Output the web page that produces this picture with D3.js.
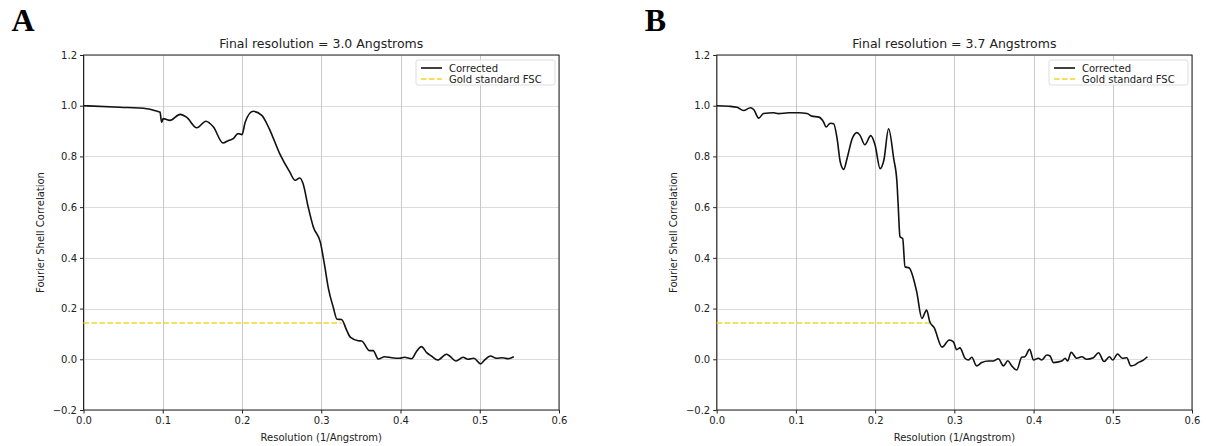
<!DOCTYPE html>
<html>
<head>
<meta charset="utf-8">
<script src="https://cdn.jsdelivr.net/npm/d3@7"></script>
<style>
  body { margin: 0; background: #fff; }
  svg { display: block; }
</style>
</head>
<body>
<div id="chart"></div>
<script>
// Panel A: FSC curve, final resolution 3.0 A
const resA = [0.000, 0.046, 0.080, 0.094, 0.0965, 0.0986, 0.1006, 0.109, 0.122, 0.130, 0.143, 0.1545, 0.164, 0.176, 0.183, 0.189, 0.195, 0.200, 0.204, 0.214, 0.225, 0.234, 0.248, 0.260, 0.267, 0.273, 0.277, 0.2835, 0.290, 0.299, 0.3045, 0.309, 0.315, 0.320, 0.3256, 0.332, 0.337, 0.3466, 0.351, 0.361, 0.3655, 0.372, 0.380, 0.389, 0.399, 0.405, 0.414, 0.420, 0.4265, 0.433, 0.439, 0.447, 0.458, 0.462, 0.470, 0.479, 0.485, 0.4925, 0.501, 0.506, 0.5135, 0.521, 0.529, 0.5357, 0.543];
const fscA = [1.000, 0.994, 0.988, 0.977, 0.975, 0.935, 0.949, 0.942, 0.966, 0.955, 0.913, 0.939, 0.916, 0.853, 0.863, 0.870, 0.890, 0.886, 0.935, 0.978, 0.962, 0.912, 0.808, 0.740, 0.706, 0.715, 0.693, 0.601, 0.522, 0.460, 0.365, 0.280, 0.207, 0.158, 0.157, 0.115, 0.086, 0.073, 0.072, 0.034, 0.034, 0.001, 0.010, 0.006, 0.004, 0.008, 0.002, 0.030, 0.050, 0.026, 0.013, -0.003, 0.020, 0.013, -0.007, 0.008, 0.000, 0.004, -0.018, -0.003, 0.013, 0.004, 0.006, 0.002, 0.010];

// Panel B: FSC curve, final resolution 3.7 A
const resB = [0.000, 0.015, 0.0256, 0.034, 0.0425, 0.0467, 0.053, 0.059, 0.072, 0.078, 0.091, 0.1035, 0.114, 0.120, 0.129, 0.135, 0.138, 0.1434, 0.1477, 0.152, 0.156, 0.1604, 0.1645, 0.171, 0.177, 0.181, 0.187, 0.1945, 0.200, 0.2063, 0.211, 0.217, 0.2235, 0.2275, 0.229, 0.2314, 0.2348, 0.2377, 0.243, 0.2525, 0.259, 0.265, 0.269, 0.2745, 0.2845, 0.2937, 0.2988, 0.303, 0.307, 0.3135, 0.3177, 0.322, 0.328, 0.3346, 0.343, 0.349, 0.3556, 0.362, 0.3674, 0.3725, 0.3788, 0.385, 0.389, 0.395, 0.400, 0.406, 0.4103, 0.4167, 0.4208, 0.425, 0.4356, 0.4398, 0.443, 0.4474, 0.4545, 0.461, 0.467, 0.4755, 0.482, 0.489, 0.4957, 0.500, 0.506, 0.512, 0.5177, 0.5227, 0.528, 0.532, 0.5386, 0.5437];
const fscB = [1.000, 0.998, 0.994, 0.981, 0.992, 0.985, 0.951, 0.969, 0.972, 0.969, 0.972, 0.972, 0.969, 0.959, 0.955, 0.935, 0.916, 0.931, 0.929, 0.870, 0.778, 0.749, 0.791, 0.870, 0.894, 0.883, 0.846, 0.882, 0.844, 0.752, 0.785, 0.909, 0.790, 0.700, 0.614, 0.483, 0.476, 0.365, 0.360, 0.266, 0.161, 0.194, 0.148, 0.125, 0.048, 0.076, 0.069, 0.038, 0.045, 0.004, -0.003, 0.008, -0.026, -0.013, -0.007, -0.007, 0.002, -0.026, -0.006, -0.026, -0.042, 0.008, 0.010, 0.039, -0.003, 0.004, -0.003, 0.017, 0.013, -0.013, -0.007, 0.004, -0.007, 0.028, 0.004, 0.010, 0.000, 0.006, 0.026, -0.009, 0.010, -0.003, 0.021, 0.004, 0.006, -0.026, -0.022, -0.013, -0.003, 0.010];

// gold standard threshold and where the dashed line stops
const goldLevel = 0.143;
const goldEnd = [0.3256, 0.269];

const panelLetters = ["A", "B"];
const panelTitles = ["Final resolution = 3.0 Angstroms", "Final resolution = 3.7 Angstroms"];
const xTicks = [0.0, 0.1, 0.2, 0.3, 0.4, 0.5, 0.6];
const yTicks = [-0.2, 0.0, 0.2, 0.4, 0.6, 0.8, 1.0, 1.2];
const legendLabels = ["Corrected", "Gold standard FSC"];

const width = 1206, height = 446;
const font = "'DejaVu Sans', sans-serif";

const svg = d3.select("#chart").append("svg")
  .attr("width", width)
  .attr("height", height);

function drawPanel({ idx, left, right, res, fsc }) {
  const top = 55, bottom = 410;

  const x = d3.scaleLinear().domain([0, 0.6]).range([left, right]);
  const y = d3.scaleLinear().domain([-0.2, 1.2]).range([bottom, top]);

  const g = svg.append("g");

  // grid
  g.append("g").selectAll("line")
    .data(yTicks)
    .enter().append("line")
    .attr("x1", left).attr("x2", right)
    .attr("y1", d => Math.round(y(d)) + 0.5)
    .attr("y2", d => Math.round(y(d)) + 0.5)
    .attr("stroke", "#dcdcdc")
    .attr("stroke-width", 1);

  g.append("g").selectAll("line")
    .data(xTicks)
    .enter().append("line")
    .attr("x1", d => Math.round(x(d)) + 0.5)
    .attr("x2", d => Math.round(x(d)) + 0.5)
    .attr("y1", top).attr("y2", bottom)
    .attr("stroke", "#c8c8c8")
    .attr("stroke-width", 1);

  // axes
  const xAxis = g.append("g")
    .attr("transform", `translate(0,${bottom})`)
    .call(d3.axisBottom(x).tickValues(xTicks).tickFormat(d3.format(".1f")).tickSize(3.5).tickPadding(3));
  const yAxis = g.append("g")
    .attr("transform", `translate(${left},0)`)
    .call(d3.axisLeft(y).tickValues(yTicks).tickFormat(d3.format(".1f")).tickSize(3.5).tickPadding(3));

  [xAxis, yAxis].forEach(a => {
    a.select(".domain").remove();
    a.selectAll("text")
      .attr("font-family", font)
      .attr("font-size", 10)
      .attr("fill", "#222");
    a.selectAll("line").attr("stroke", "#222");
  });
  yAxis.selectAll("text").text(d => d3.format(".1f")(d).replace("-", "\u2212"));

  // frame
  g.append("rect")
    .attr("x", left).attr("y", top)
    .attr("width", right - left).attr("height", bottom - top)
    .attr("fill", "none")
    .attr("stroke", "#222")
    .attr("stroke-width", 1);

  // gold standard dashed line
  g.append("line")
    .attr("x1", x(0)).attr("x2", x(goldEnd[idx]))
    .attr("y1", y(goldLevel)).attr("y2", y(goldLevel))
    .attr("stroke", "#f5d327")
    .attr("stroke-width", 1.5)
    .attr("stroke-dasharray", "5.5,2.5");

  // FSC curve
  const pts = res.map((r, i) => ({ r, v: fsc[i] }));
  g.append("path")
    .datum(pts)
    .attr("fill", "none")
    .attr("stroke", "#111")
    .attr("stroke-width", 1.6)
    .attr("stroke-linejoin", "round")
    .attr("d", d3.line()
      .curve(d3.curveMonotoneX)
      .x(d => x(d.r))
      .y(d => y(d.v)));

  // title
  g.append("text")
    .attr("x", (left + right) / 2)
    .attr("y", top - 7)
    .attr("text-anchor", "middle")
    .attr("font-family", font)
    .attr("font-size", 12.5)
    .attr("fill", "#222")
    .text(panelTitles[idx]);

  // axis labels
  g.append("text")
    .attr("x", (left + right) / 2)
    .attr("y", bottom + 31)
    .attr("text-anchor", "middle")
    .attr("font-family", font)
    .attr("font-size", 10)
    .attr("fill", "#222")
    .text("Resolution (1/Angstrom)");

  g.append("text")
    .attr("transform", `translate(${left - 40},${(top + bottom) / 2}) rotate(-90)`)
    .attr("text-anchor", "middle")
    .attr("font-family", font)
    .attr("font-size", 10)
    .attr("fill", "#222")
    .text("Fourier Shell Correlation");

  // panel letter
  svg.append("text")
    .attr("x", left - 72)
    .attr("y", 31)
    .attr("font-family", "'Liberation Serif', 'Times New Roman', serif")
    .attr("font-weight", "bold")
    .attr("font-size", 32)
    .attr("fill", "#000")
    .text(panelLetters[idx]);

  // legend
  const lx = right - 143, ly = 60;
  const legend = g.append("g");
  legend.append("rect")
    .attr("x", lx).attr("y", ly)
    .attr("width", 139).attr("height", 25)
    .attr("rx", 2)
    .attr("fill", "rgba(255,255,255,0.8)")
    .attr("stroke", "#ddd");
  legend.append("line")
    .attr("x1", lx + 5).attr("x2", lx + 26)
    .attr("y1", ly + 8).attr("y2", ly + 8)
    .attr("stroke", "#111").attr("stroke-width", 1.6);
  legend.append("line")
    .attr("x1", lx + 5).attr("x2", lx + 26)
    .attr("y1", ly + 19).attr("y2", ly + 19)
    .attr("stroke", "#f5d327").attr("stroke-width", 1.5)
    .attr("stroke-dasharray", "5.5,2.5");
  legendLabels.forEach((t, i) => {
    legend.append("text")
      .attr("x", lx + 33)
      .attr("y", ly + 11.5 + i * 11)
      .attr("font-family", font)
      .attr("font-size", 10)
      .attr("fill", "#222")
      .text(t);
  });
}

drawPanel({ idx: 0, left: 83.5, right: 559, res: resA, fsc: fscA });
drawPanel({ idx: 1, left: 716.7, right: 1192, res: resB, fsc: fscB });
</script>
</body>
</html>
